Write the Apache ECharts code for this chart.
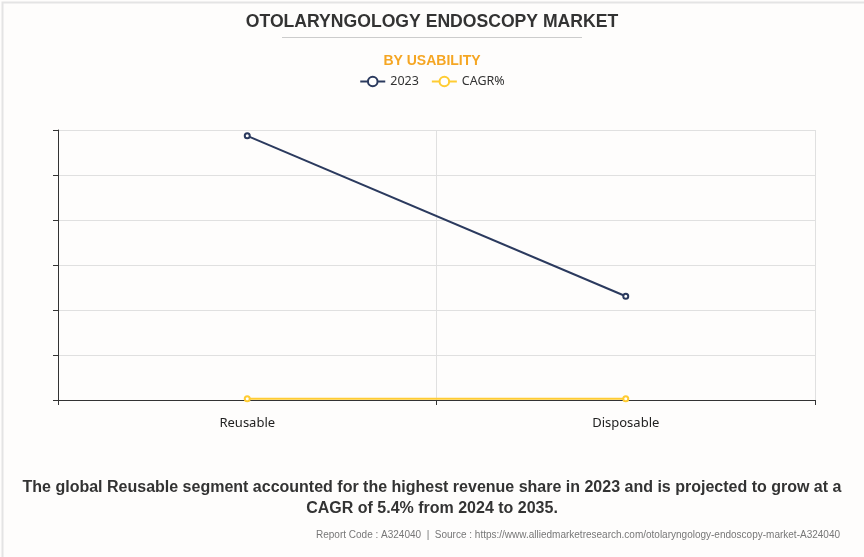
<!DOCTYPE html>
<html><head><meta charset="utf-8">
<script src="https://cdn.jsdelivr.net/npm/echarts@6/dist/echarts.min.js"></script>
<style>html,body{margin:0;padding:0;background:#fff;}#c{width:864px;height:557px;}</style>
</head><body><div id="c"></div>
<script>
const categories = ['Reusable', 'Disposable'];
const seriesNames = ['2023', 'CAGR%'];
const values2023 = [1174, 461];
const valuesCagr = [5.4, 6.0];
const yMax = 1200;
const yInterval = 200;
const titleText = 'OTOLARYNGOLOGY ENDOSCOPY MARKET';
const subtitleText = 'BY USABILITY';
const noteLines = ['The global Reusable segment accounted for the highest revenue share in 2023 and is projected to grow at a', 'CAGR of 5.4% from 2024 to 2035.'];
const footerText = 'Report Code : A324040  |  Source : https://www.alliedmarketresearch.com/otolaryngology-endoscopy-market-A324040';

const chart = echarts.init(document.getElementById('c'));
chart.setOption({
  backgroundColor: '#fefdfc',
  animation: false,
  title: [
    {text: titleText, left: 'center', top: 8, textStyle: {fontFamily: 'Liberation Sans', fontWeight: 'bold', fontSize: 17.6, color: '#333'}},
    {text: subtitleText, left: 'center', top: 49, textStyle: {fontFamily: 'Liberation Sans', fontWeight: 'bold', fontSize: 14, color: '#f5a623'}}
  ],
  legend: {
    data: seriesNames, top: 70, left: 'center', itemWidth: 25, itemHeight: 12, itemGap: 12,
    textStyle: {fontFamily: 'Noto Sans', fontSize: 12.5, color: '#333'}
  },
  grid: {left: 58, right: 49, top: 130, bottom: 157, containLabel: false},
  xAxis: {
    type: 'category', data: categories, boundaryGap: true,
    axisLine: {lineStyle: {color: '#333'}},
    axisTick: {show: true, length: 5, lineStyle: {color: '#333'}},
    axisLabel: {margin: 17, fontFamily: 'Noto Sans', fontSize: 13, color: '#222'},
    splitLine: {show: true, lineStyle: {color: '#e0e0e0'}}
  },
  yAxis: {
    type: 'value', min: 0, max: yMax, interval: yInterval,
    axisLine: {show: true, lineStyle: {color: '#333'}},
    axisTick: {show: true, length: 5, lineStyle: {color: '#333'}},
    axisLabel: {show: false},
    splitLine: {show: true, lineStyle: {color: '#e0e0e0'}}
  },
  series: [
    {name: seriesNames[0], type: 'line', data: values2023, symbol: 'emptyCircle', symbolSize: 5,
     lineStyle: {color: '#2b3a5e', width: 2}, itemStyle: {color: '#2b3a5e'}},
    {name: seriesNames[1], type: 'line', data: valuesCagr, symbol: 'emptyCircle', symbolSize: 5,
     lineStyle: {color: '#ffcc33', width: 2}, itemStyle: {color: '#ffcc33'}}
  ],
  graphic: [
    {type: 'rect', left: 0, top: 0, shape: {width: 863, height: 556}, style: {fill: 'none', stroke: '#e4e4e4', lineWidth: 2}, silent: true},
    {type: 'line', shape: {x1: 282, y1: 37.5, x2: 582, y2: 37.5}, style: {stroke: '#cccccc', lineWidth: 1}},
    {type: 'text', x: 432, y: 488, style: {text: noteLines[0], align: 'center', verticalAlign: 'middle', font: 'bold 16px "Liberation Sans Narrow", "Liberation Sans", Arial', fill: '#333'}},
    {type: 'text', x: 432, y: 509, style: {text: noteLines[1], align: 'center', verticalAlign: 'middle', font: 'bold 16px "Liberation Sans Narrow", "Liberation Sans", Arial', fill: '#333'}},
    {type: 'text', x: 840, y: 535, style: {text: footerText, align: 'right', verticalAlign: 'middle', font: '10px "Liberation Sans", Arial', fill: '#777'}}
  ]
});
</script></body></html>
